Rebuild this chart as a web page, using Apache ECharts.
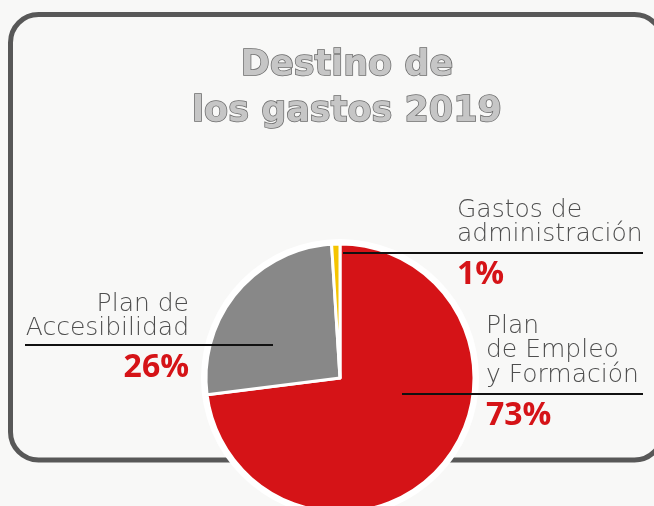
<!DOCTYPE html>
<html>
<head>
<meta charset="utf-8">
<script src="https://cdn.jsdelivr.net/npm/echarts@6/dist/echarts.min.js"></script>
<style>
html,body{margin:0;padding:0;background:#f8f8f7;}
#chart{width:654px;height:506px;}
</style>
</head>
<body>
<div id="chart"></div>
<script>
// ---- data ----
const categories = ['Plan de Empleo y Formación', 'Plan de Accesibilidad', 'Gastos de administración'];
const nameLines = [['Plan', 'de Empleo', 'y Formación'], ['Plan de', 'Accesibilidad'], ['Gastos de', 'administración']];
const values = [73, 26, 1];
const percentLabels = ['73%', '26%', '1%'];
const titleLines = ['Destino de', 'los gastos 2019'];

// ---- styling / layout (kept separate from data) ----
const colors = ['#d51317', '#888888', '#f5c400'];
const labelPos = [
  { x: 486, align: 'left',  top: 314, pctLH: 56, lineY: 394, lineFrom: 402, lineTo: 643 },
  { x: 189, align: 'right', top: 292, pctLH: 54, lineY: 345, lineFrom: 273, lineTo: 25 },
  { x: 457, align: 'left',  top: 198, pctLH: 55, lineY: 253, lineFrom: 343, lineTo: 643 }
];
const nameFont = 'DejaVu Sans';
const pctFont = 'Open Sans';

const rich = { n: { fontSize: 25, lineHeight: 24.5, color: '#4e4e4e', fontFamily: nameFont, fontWeight: 200 } };
labelPos.forEach((c, i) => {
  rich['p' + i] = { fontSize: 32, lineHeight: c.pctLH, color: '#d51317', fontWeight: 'bold', fontFamily: pctFont };
});

const pieData = categories.map((c, i) => ({ name: c, value: values[i] }));

const chart = echarts.init(document.getElementById('chart'), null, { renderer: 'canvas' });
chart.setOption({
  backgroundColor: '#f8f8f7',
  animation: false,
  graphic: [
    {
      type: 'rect', z: 0, silent: true,
      shape: { x: 10.5, y: 14.5, width: 652, height: 445.5, r: 28 },
      style: { fill: 'rgba(0,0,0,0)', stroke: '#585858', lineWidth: 5 }
    },
    {
      type: 'text', z: 1, silent: true,
      x: 347, y: 43,
      style: {
        text: titleLines.join('\n'),
        fontFamily: 'DejaVu Sans', fontSize: 35, fontWeight: 'bold', lineHeight: 46,
        align: 'center', textAlign: 'center', verticalAlign: 'top', textVerticalAlign: 'top',
        fill: '#c6c6c6', stroke: '#6a6a6a', lineWidth: 1.5
      }
    }
  ],
  series: [
    {
      // white halo behind the pie
      type: 'pie', z: 1, silent: true,
      center: [340, 378], radius: 139,
      data: [{ value: 1, itemStyle: { color: '#ffffff' } }],
      label: { show: false }, labelLine: { show: false },
      emphasis: { disabled: true }
    },
    {
      // the slices
      type: 'pie', z: 2, silent: true,
      center: [340, 378], radius: 134,
      startAngle: 90, clockwise: true,
      itemStyle: { borderColor: '#ffffff', borderWidth: 3 },
      emphasis: { disabled: true },
      data: pieData.map((d, i) => ({ name: d.name, value: d.value, itemStyle: { color: colors[i] } })),
      label: { show: false }, labelLine: { show: false }
    },
    {
      // transparent copy on top carrying the labels and leader lines
      type: 'pie', z: 3, silent: true,
      center: [340, 378], radius: 134,
      startAngle: 90, clockwise: true,
      avoidLabelOverlap: false,
      itemStyle: { color: 'rgba(0,0,0,0)', borderWidth: 0 },
      emphasis: { disabled: true },
      data: pieData,
      label: {
        show: true, position: 'outside', overflow: 'none',
        formatter: p => nameLines[p.dataIndex].map(s => '{n|' + s + '}').join('\n') + '\n{p' + p.dataIndex + '|' + percentLabels[p.dataIndex] + '}',
        rich: rich
      },
      labelLine: { show: true, smooth: false, lineStyle: { color: '#111111', width: 2 } },
      labelLayout: function (params) {
        const c = labelPos[params.dataIndex];
        return {
          x: c.x, y: c.top, align: c.align, verticalAlign: 'top',
          hideOverlap: false,
          labelLinePoints: [[c.lineFrom, c.lineY], [(c.lineFrom + c.lineTo) / 2, c.lineY], [c.lineTo, c.lineY]]
        };
      }
    }
  ]
});
</script>
</body>
</html>
